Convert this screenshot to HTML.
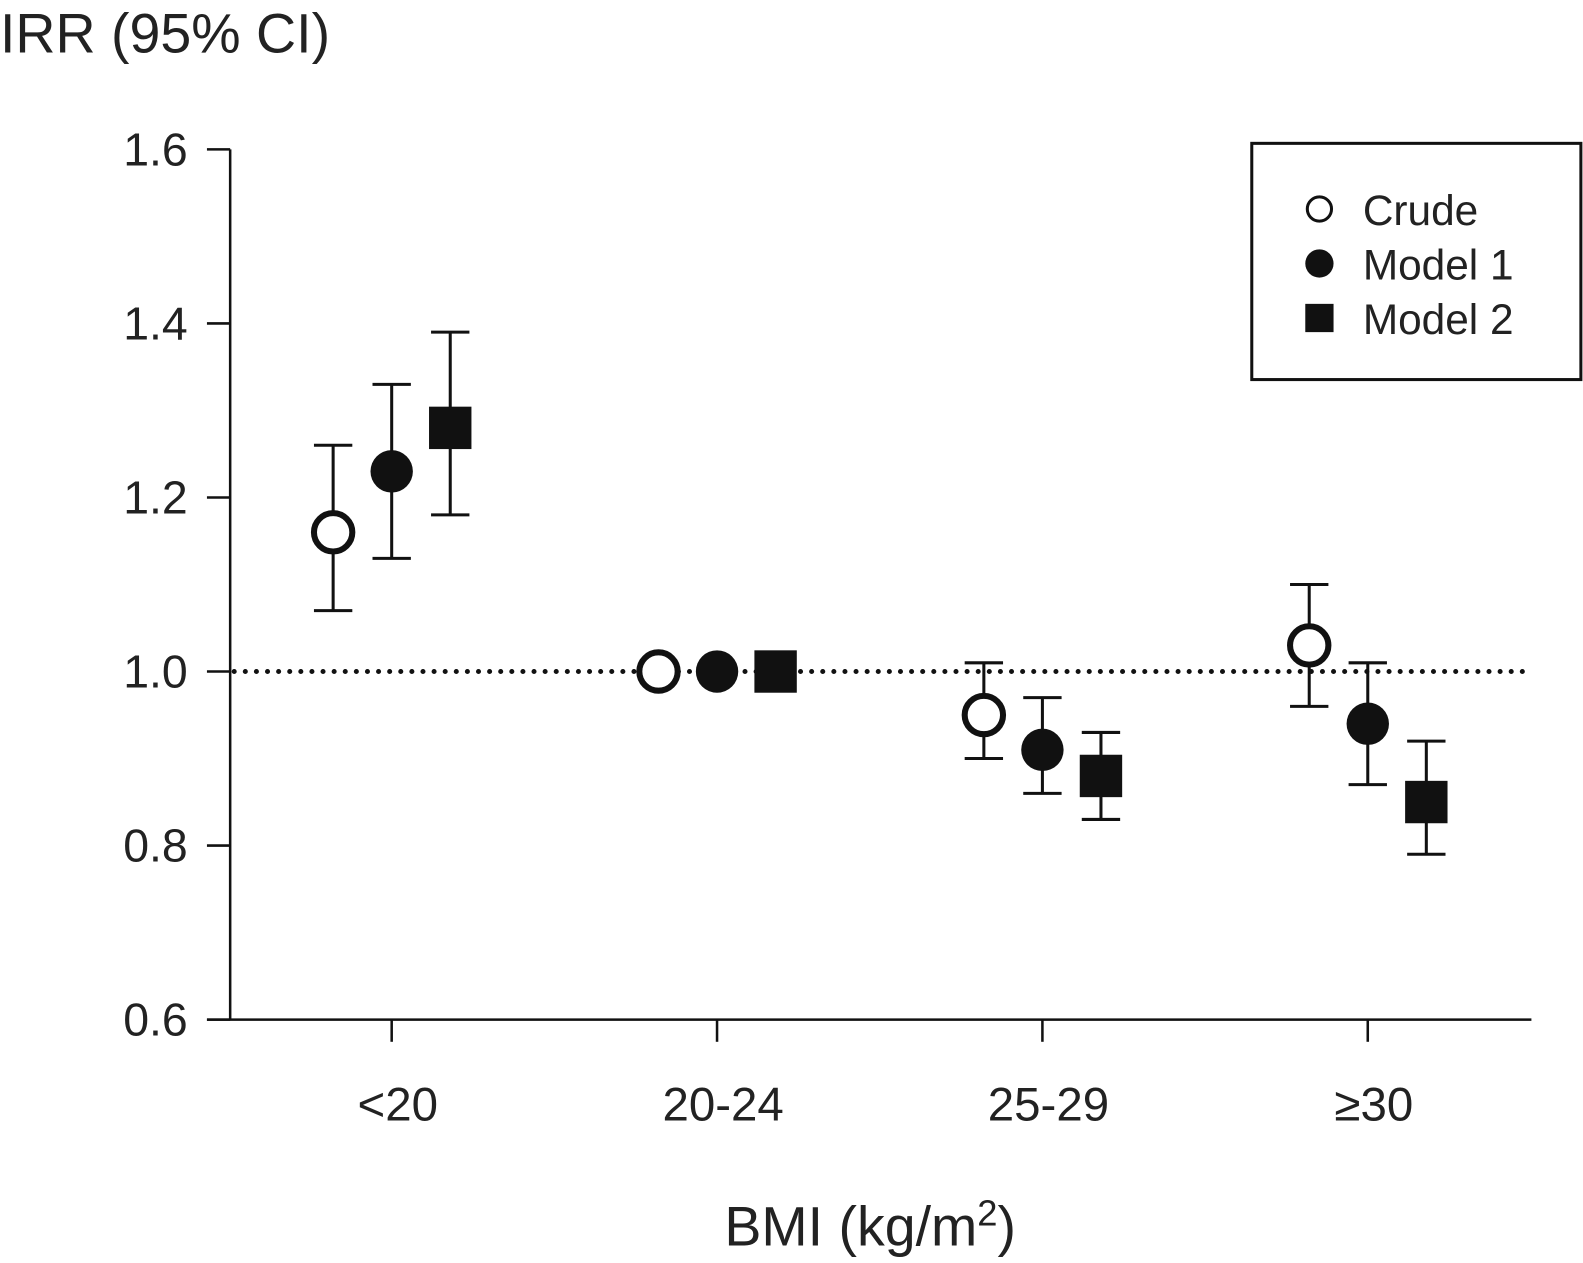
<!DOCTYPE html>
<html><head><meta charset="utf-8"><style>
html,body{margin:0;padding:0;background:#fff;}
svg{display:block;font-family:"Liberation Sans",Arial,sans-serif;}
</style></head><body>
<svg width="1583" height="1263" viewBox="0 0 1583 1263">
<g transform="scale(1.0095)">
<text x="0" y="52" font-size="55" fill="#222">IRR (95% CI)</text>
<text x="862" y="1234" font-size="55" fill="#222" text-anchor="middle">BMI (kg/m<tspan font-size="36" dy="-20">2</tspan><tspan dy="20">)</tspan></text>
<g id="axes"></g>
<g id="marks"></g>
<g>
<rect x="1240" y="142" width="326" height="234" fill="#fff" stroke="#111" stroke-width="3"/>
<g><circle cx="1307" cy="207" r="12" fill="#fff" stroke="#111" stroke-width="3"/><text x="1350" y="223" font-size="42" fill="#222">Crude</text></g>
<g><circle cx="1307" cy="261" r="14" fill="#111"/><text x="1350" y="277" font-size="42" fill="#222">Model 1</text></g>
<g><rect x="1293" y="301" width="28" height="28" fill="#111"/><text x="1350" y="331" font-size="42" fill="#222">Model 2</text></g>
</g>
</g>
</svg>
<script>
const categories=["<20","20-24","25-29","\u226530"];
const crudeVal=[1.16,1.0,0.95,1.03];
const crudeLo=[1.07,1.0,0.90,0.96];
const crudeHi=[1.26,1.0,1.01,1.10];
const m1Val=[1.23,1.0,0.91,0.94];
const m1Lo=[1.13,1.0,0.86,0.87];
const m1Hi=[1.33,1.0,0.97,1.01];
const m2Val=[1.28,1.0,0.88,0.85];
const m2Lo=[1.18,1.0,0.83,0.79];
const m2Hi=[1.39,1.0,0.93,0.92];
const yTicks=[0.6,0.8,1.0,1.2,1.4,1.6];
const refLine=1.0;

const NS="http://www.w3.org/2000/svg";
function y(v){return 1010-(v-0.6)*862;}
function x(i){return 388+i*322.3;}
function mk(tag,attrs,parent){const e=document.createElementNS(NS,tag);for(const k in attrs)e.setAttribute(k,attrs[k]);parent.appendChild(e);return e;}
const axes=document.getElementById('axes'),marks=document.getElementById('marks');
let e=mk('line',{x1:228,y1:148,x2:228,y2:1010,stroke:'#111','stroke-width':2.5},axes);


e=mk('line',{x1:205,y1:1010,x2:1517,y2:1010,stroke:'#111','stroke-width':2.5},axes);


yTicks.forEach(t=>{
 mk('line',{x1:205,y1:y(t),x2:228,y2:y(t),stroke:'#111','stroke-width':2.5},axes);
 const tx=mk('text',{x:186,y:y(t)+16,'font-size':46,'text-anchor':'end',fill:'#222'},axes);
 tx.textContent=t.toFixed(1);
 
 
});
categories.forEach((c,i)=>{
 mk('line',{x1:x(i),y1:1010,x2:x(i),y2:1032,stroke:'#111','stroke-width':2.5},axes);
 const tx=mk('text',{x:x(i)+6,y:1110,'font-size':47,'text-anchor':'middle',fill:'#222'},axes);
 tx.textContent=c;
 
 
});
e=mk('line',{x1:232,y1:y(refLine),x2:1517,y2:y(refLine),stroke:'#111','stroke-width':5,'stroke-dasharray':'0 11','stroke-linecap':'round'},axes);


const series=[
 {name:'crude',off:-58,v:crudeVal,lo:crudeLo,hi:crudeHi,shape:'open'},
 {name:'model-1',off:0,v:m1Val,lo:m1Lo,hi:m1Hi,shape:'dot'},
 {name:'model-2',off:58,v:m2Val,lo:m2Lo,hi:m2Hi,shape:'sq'}];
series.forEach(s=>{
 s.v.forEach((v,i)=>{
  const cx=x(i)+s.off;
  if(s.hi[i]!==s.lo[i]){
   const g=mk('g',{stroke:'#111','stroke-width':3},marks);
   
   
   mk('line',{x1:cx,y1:y(s.lo[i]),x2:cx,y2:y(s.hi[i])},g);
   mk('line',{x1:cx-19,y1:y(s.lo[i]),x2:cx+19,y2:y(s.lo[i])},g);
   mk('line',{x1:cx-19,y1:y(s.hi[i]),x2:cx+19,y2:y(s.hi[i])},g);
  }
  let m;
  if(s.shape==='open')m=mk('circle',{cx:cx,cy:y(v),r:19,fill:'#fff',stroke:'#111','stroke-width':6},marks);
  else if(s.shape==='dot')m=mk('circle',{cx:cx,cy:y(v),r:21,fill:'#111'},marks);
  else m=mk('rect',{x:cx-21,y:y(v)-21,width:42,height:42,fill:'#111'},marks);
  
  
 });
});
</script>
</body></html>
